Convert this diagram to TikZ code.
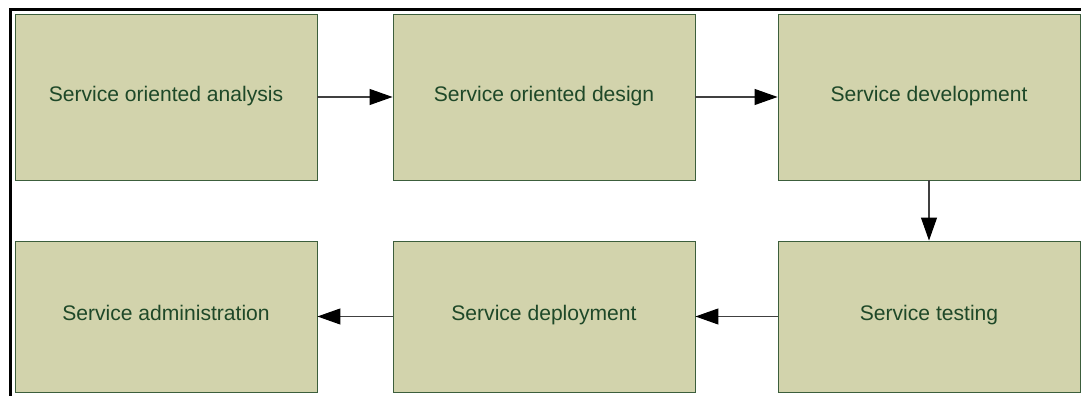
\documentclass[tikz,border=0pt]{standalone}
\usepackage{fontspec}
\setmainfont{Liberation Sans}
\usetikzlibrary{arrows.meta}

\definecolor{boxfill}{HTML}{D2D3AC}
\definecolor{boxline}{HTML}{3C5E3C}
\definecolor{boxtext}{HTML}{1E4828}
\definecolor{flowline}{HTML}{404040}

\begin{document}
\begin{tikzpicture}[
		phase/.style = {draw = boxline, fill = boxfill, text = boxtext, line width = 0.5pt,
			minimum width = 6.04cm, text height = 0.72em, text depth = 0.21em,
			font = \fontsize{12}{14}\selectfont},
		toprow/.style = {phase, minimum height = 3.32cm},
		lowrow/.style = {phase, minimum height = 3.02cm},
		flow/.style = {draw = flowline, line width = 0.6pt, -{Triangle[length = 0.46cm, width = 0.32cm, fill = black, color = black]}}
	]
		%canvas
		\useasboundingbox (0,0) rectangle (21.62,7.92);
		
		%frame
		\coordinate (c1) at (0.21,0);
		\coordinate (c2) at (0.21,7.73);
		\coordinate (c3) at (21.62,7.73);
		\draw [line width = 1.7pt] (c1) -- (c2) -- (c3);
		
		%phases, first row
		\node [toprow] (analysis) at (3.32,5.98) {Service oriented analysis};
		\node [toprow] (design) at (10.88,5.98) {Service oriented design};
		\node [toprow] (development) at (18.58,5.98) {Service development};
		
		%phases, second row
		\node [lowrow] (testing) at (18.58,1.59) {Service testing};
		\node [lowrow] (deployment) at (10.88,1.59) {Service deployment};
		\node [lowrow] (administration) at (3.32,1.59) {Service administration};
		
		%flow
		\draw [flow] (analysis) -- (design);
		\draw [flow] (design) -- (development);
		\draw [flow] (development) -- (testing);
		\draw [flow] (testing) -- (deployment);
		\draw [flow] (deployment) -- (administration);

	\end{tikzpicture}
\end{document}
